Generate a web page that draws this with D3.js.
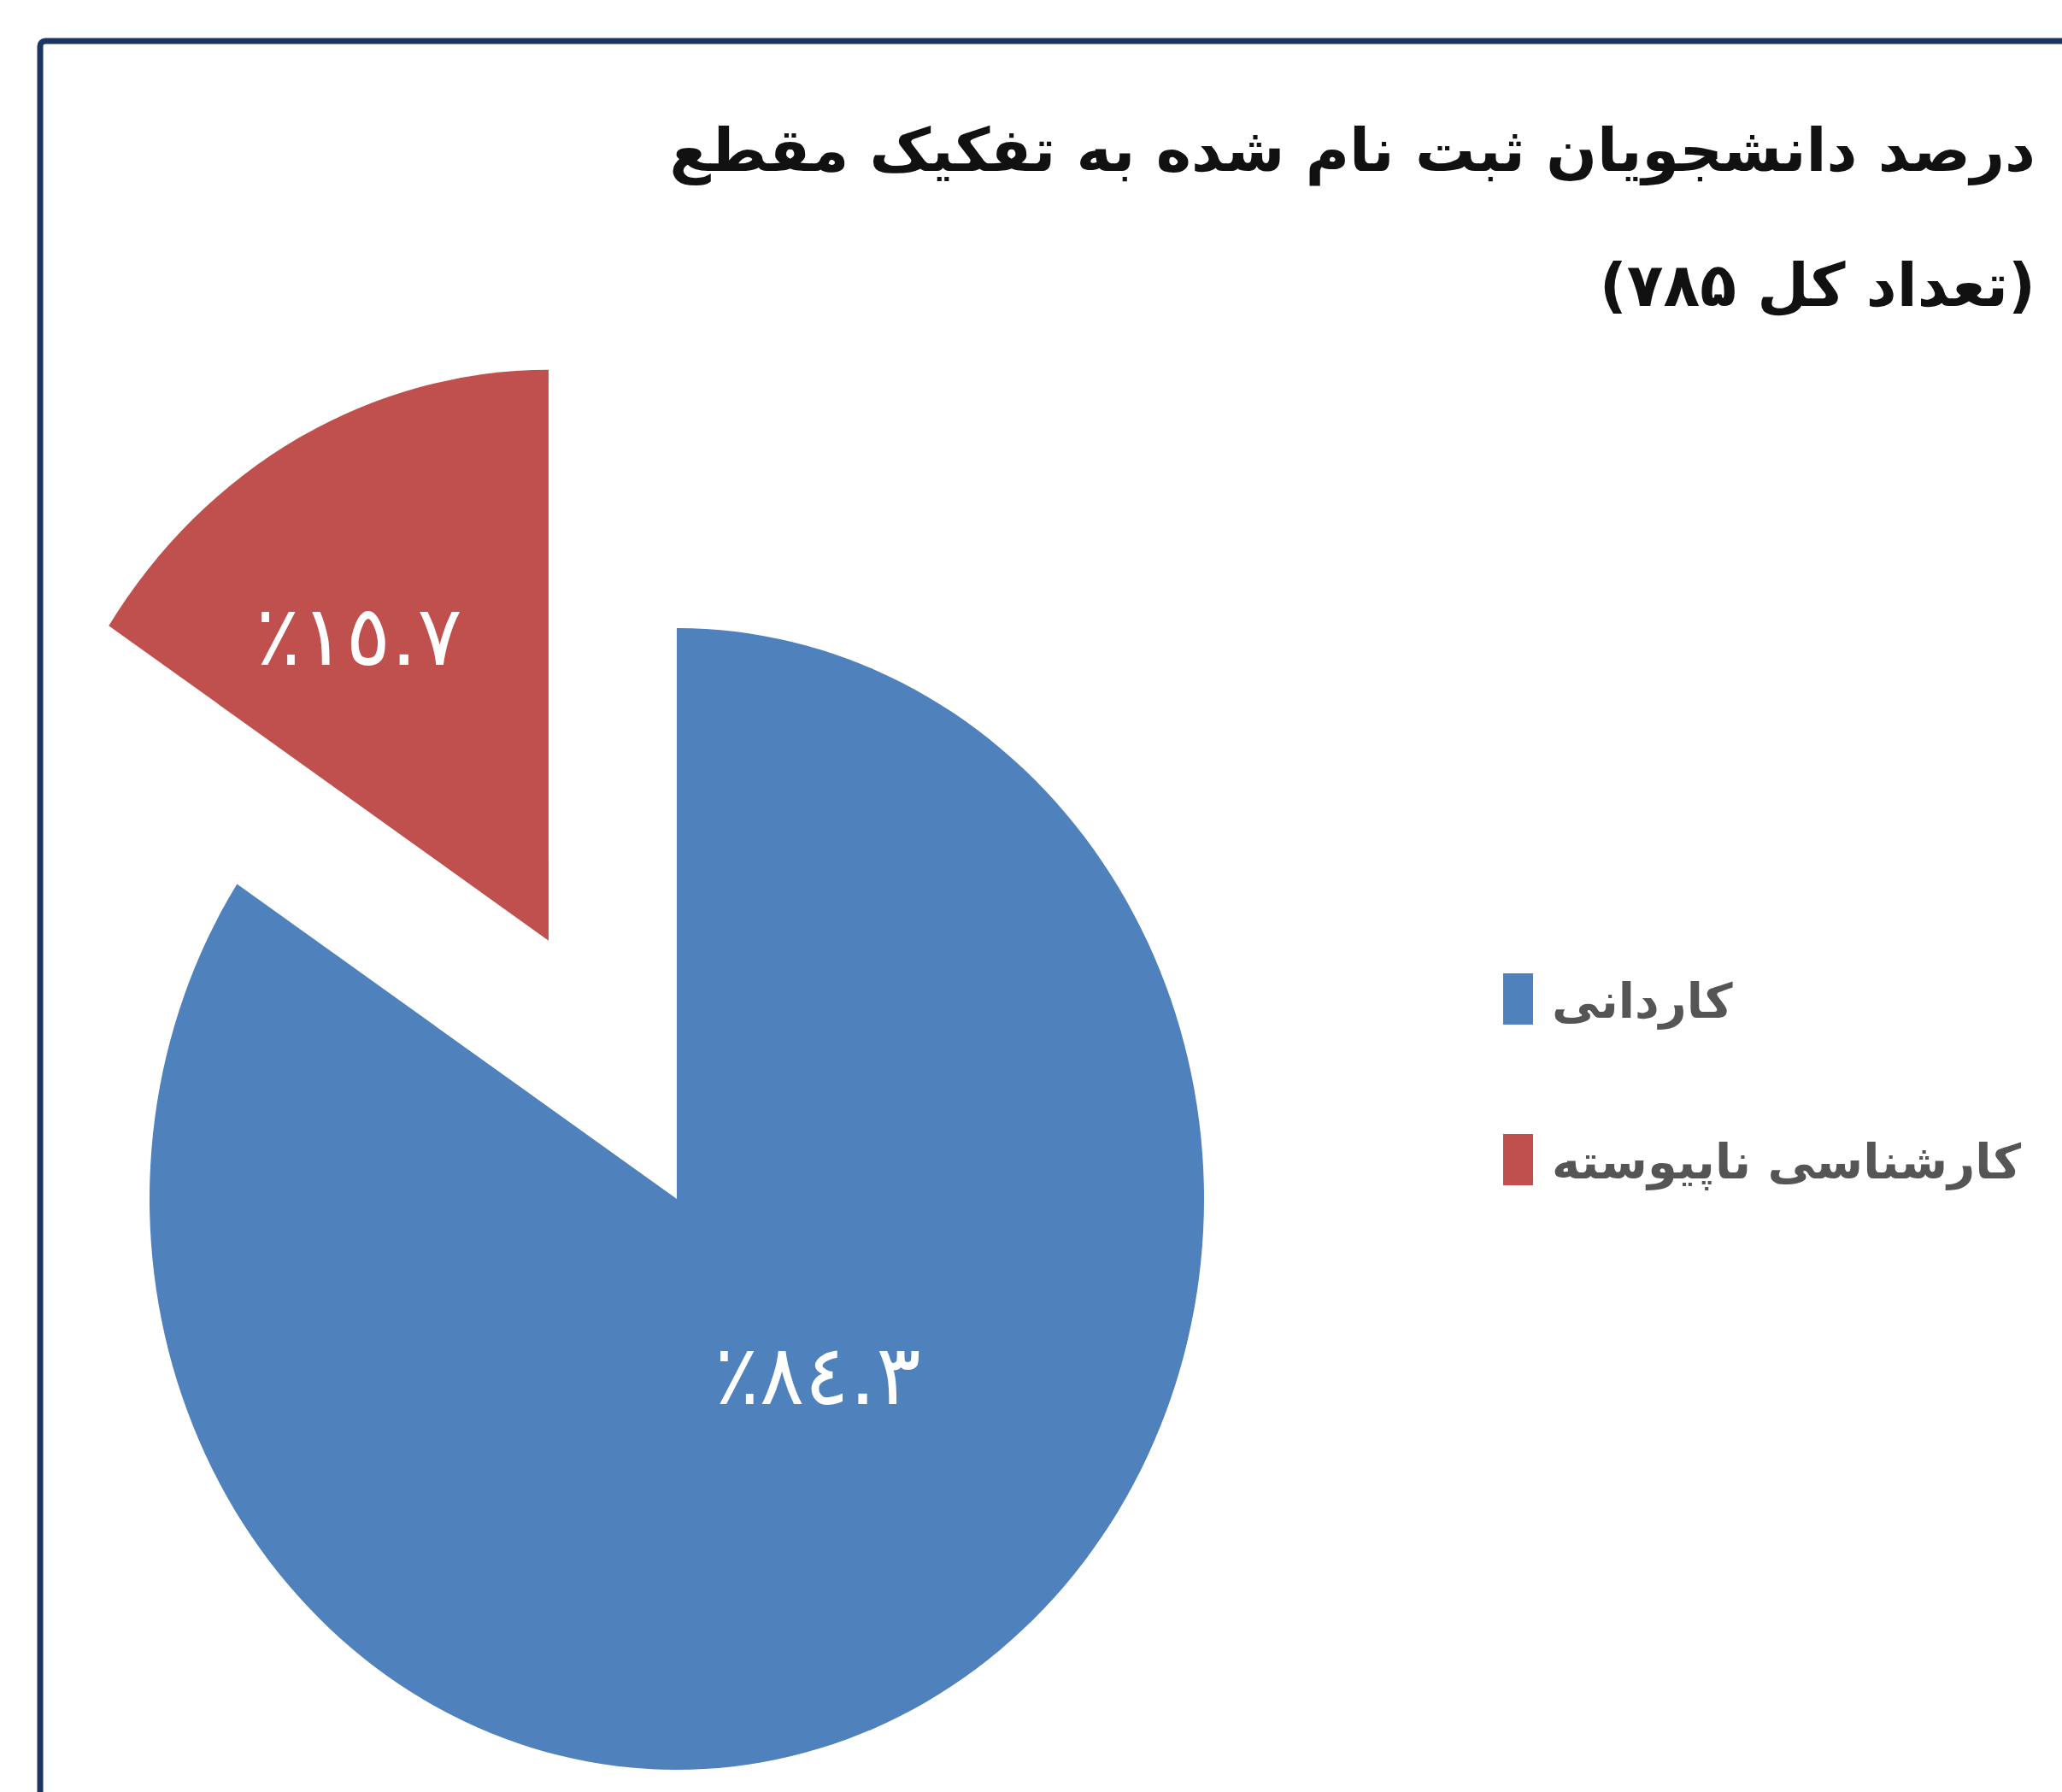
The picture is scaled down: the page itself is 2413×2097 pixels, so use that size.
<!DOCTYPE html>
<html>
<head>
<meta charset="utf-8">
<script src="https://cdn.jsdelivr.net/npm/d3@7"></script>
<style>
  body { margin: 0; background: #fff; }
</style>
</head>
<body>
<svg id="viz"></svg>
<script>
const categories = ["کاردانی", "کارشناسی ناپیوسته"];
const values = [84.3, 15.7];
const valueLabels = ["٪٨٤.٣", "٪١٥.٧"];
const colors = ["#4f81bd", "#c0504d"];
const titleLines = ["درصد دانشجویان ثبت نام شده به تفکیک مقطع", "(تعداد کل ۷۸۵)"];

const width = 2413, height = 2097;
const font = "'DejaVu Sans', sans-serif";

const svg = d3.select("#viz")
    .attr("width", width)
    .attr("height", height)
    .attr("viewBox", [0, 0, width, height])
    .style("background", "#fff");

// frame, cut off at right and bottom like the source
svg.append("rect")
    .attr("x", 47)
    .attr("y", 48)
    .attr("width", width)
    .attr("height", height)
    .attr("rx", 6)
    .attr("fill", "none")
    .attr("stroke", "#1b3660")
    .attr("stroke-width", 7);

// title
svg.selectAll(".title")
  .data(titleLines)
  .join("text")
    .attr("class", "title")
    .attr("x", 2382)
    .attr("y", (d, i) => i === 0 ? 200 : 358)
    .attr("direction", "rtl")
    .attr("text-anchor", "start")
    .style("font-family", font)
    .style("font-weight", "bold")
    .style("font-size", "70px")
    .attr("fill", "#111")
    .text(d => d);

// pie (source is stretched vertically)
const cx = 792, cy = 1403, rx = 617, ry = 668;
const explode = 317;

const data = categories.map((c, i) => ({ name: c, value: values[i], label: valueLabels[i], color: colors[i] }));

const pie = d3.pie().sort(null).value(d => d.value);
const arcs = pie(data);

const arc = d3.arc().innerRadius(0).outerRadius(rx);

const g = svg.append("g")
    .attr("transform", `translate(${cx},${cy}) scale(1,${ry / rx})`);

const shift = (d, i) => {
  if (i === 0) return [0, 0];
  const mid = (d.startAngle + d.endAngle) / 2;
  return [Math.sin(mid) * explode, -Math.cos(mid) * explode];
};

g.selectAll(".slice")
  .data(arcs)
  .join("path")
    .attr("class", "slice")
    .attr("transform", (d, i) => `translate(${shift(d, i)})`)
    .attr("d", arc)
    .attr("fill", d => d.data.color);

// value labels
const labelR = [0.407, 0.645];
const labelTurn = [-12.8, -5.6];
svg.selectAll(".vlabel")
  .data(arcs)
  .join("text")
    .attr("class", "vlabel")
    .attr("x", (d, i) => {
      const a = (d.startAngle + d.endAngle) / 2 + labelTurn[i] * Math.PI / 180;
      return cx + shift(d, i)[0] + Math.sin(a) * labelR[i] * rx;
    })
    .attr("y", (d, i) => {
      const a = (d.startAngle + d.endAngle) / 2 + labelTurn[i] * Math.PI / 180;
      return cy + shift(d, i)[1] * ry / rx - Math.cos(a) * labelR[i] * ry;
    })
    .attr("dy", "0.36em")
    .attr("text-anchor", "middle")
    .style("direction", "ltr")
    .style("unicode-bidi", "bidi-override")
    .style("font-family", font)
    .style("font-size", "98px")
    .style("letter-spacing", "5px")
    .attr("fill", "#fff")
    .text(d => d.data.label);

// legend
const legend = svg.append("g")
    .attr("transform", "translate(1759,1139)");

const item = legend.selectAll(".item")
  .data(data)
  .join("g")
    .attr("class", "item")
    .attr("transform", (d, i) => `translate(0,${i * 188})`);

item.append("rect")
    .attr("width", 35)
    .attr("height", 60)
    .attr("fill", d => d.color);

item.append("text")
    .attr("x", 57)
    .attr("y", 52)
    .attr("text-anchor", "start")
    .style("font-family", font)
    .style("font-size", "56px")
    .style("font-weight", "bold")
    .attr("fill", "#555")
    .text(d => d.name);
</script>
</body>
</html>
